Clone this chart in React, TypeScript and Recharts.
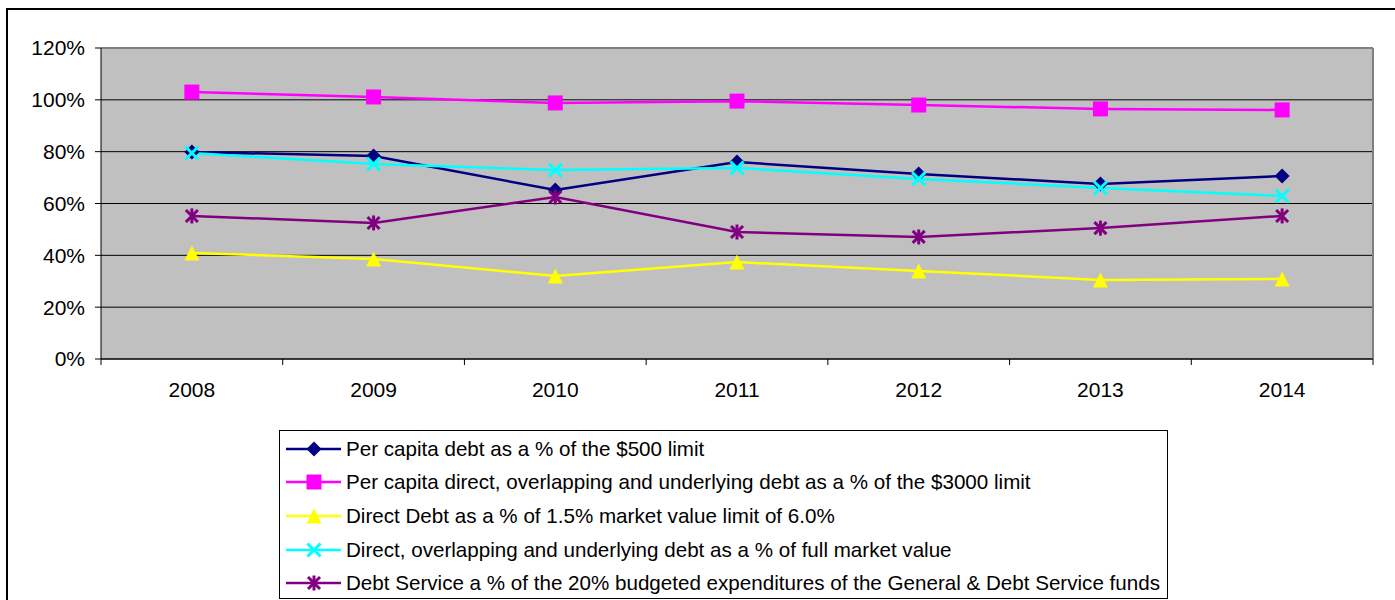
import React from "react";
import {
  LineChart,
  Line,
  XAxis,
  YAxis,
  CartesianGrid,
  ReferenceLine,
} from "recharts";

const years = ["2008", "2009", "2010", "2011", "2012", "2013", "2014"];

const perCapita500 = [79.9, 78.3, 65.2, 76.0, 71.4, 67.5, 70.6];
const perCapita3000 = [103.0, 101.1, 98.8, 99.5, 98.0, 96.5, 96.1];
const directDebt = [40.9, 38.6, 32.0, 37.4, 34.0, 30.5, 30.9];
const fullMarket = [79.5, 75.2, 72.9, 73.7, 69.5, 66.0, 62.9];
const debtService = [55.2, 52.5, 62.5, 49.0, 47.1, 50.5, 55.2];

const yTicks = [0, 20, 40, 60, 80, 100, 120];

type Shape = "diamond" | "square" | "triangle" | "x" | "star";

const series: { key: string; name: string; values: number[]; color: string; shape: Shape }[] = [
  { key: "a", name: "Per capita debt as a % of the $500 limit", values: perCapita500, color: "#000080", shape: "diamond" },
  { key: "b", name: "Per capita direct, overlapping and underlying debt as a % of the $3000 limit", values: perCapita3000, color: "#FF00FF", shape: "square" },
  { key: "c", name: "Direct Debt as a % of 1.5% market value limit of 6.0%", values: directDebt, color: "#FFFF00", shape: "triangle" },
  { key: "d", name: "Direct, overlapping and underlying debt as a % of full market value", values: fullMarket, color: "#00FFFF", shape: "x" },
  { key: "e", name: "Debt Service a % of the 20% budgeted expenditures of the General & Debt Service funds", values: debtService, color: "#800080", shape: "star" },
];

const data = years.map((y, i) => {
  const row: Record<string, number | string> = { x: i + 0.5, year: y };
  series.forEach((s) => (row[s.key] = s.values[i]));
  return row;
});

// ticks on band edges (integers) and labels at band centres (halves)
const xTicks = Array.from({ length: years.length * 2 + 1 }, (_, i) => i / 2);

const FONT = "Arial, 'Liberation Sans', sans-serif";

function Marker({ cx, cy, shape, color }: { cx: number; cy: number; shape: Shape; color: string }) {
  const r = 7.5;
  switch (shape) {
    case "diamond":
      return <polygon points={`${cx},${cy - r} ${cx + r},${cy} ${cx},${cy + r} ${cx - r},${cy}`} fill={color} />;
    case "square":
      return <rect x={cx - r} y={cy - r} width={r * 2} height={r * 2} fill={color} />;
    case "triangle":
      return <polygon points={`${cx},${cy - r} ${cx + r},${cy + r} ${cx - r},${cy + r}`} fill={color} />;
    case "x":
      return (
        <g stroke={color} strokeWidth={3}>
          <line x1={cx - 6.5} y1={cy - 6.5} x2={cx + 6.5} y2={cy + 6.5} />
          <line x1={cx - 6.5} y1={cy + 6.5} x2={cx + 6.5} y2={cy - 6.5} />
        </g>
      );
    default:
      return (
        <g stroke={color} strokeWidth={3}>
          <line x1={cx - 6} y1={cy - 6} x2={cx + 6} y2={cy + 6} />
          <line x1={cx - 6} y1={cy + 6} x2={cx + 6} y2={cy - 6} />
          <line x1={cx} y1={cy - 7.5} x2={cx} y2={cy + 7.5} />
        </g>
      );
  }
}

function XTick({ x, y, payload }: any) {
  const v = payload.value as number;
  if (Number.isInteger(v)) {
    return <line x1={x} y1={y} x2={x} y2={y + 6} stroke="#000" strokeWidth={1} />;
  }
  return (
    <text x={x} y={y + 38} textAnchor="middle" fontSize={21} fontFamily={FONT} fill="#000">
      {years[Math.floor(v)]}
    </text>
  );
}

function LegendBox() {
  return (
    <div
      style={{
        position: "absolute",
        left: 279,
        top: 430,
        width: 887,
        height: 166,
        border: "1px solid #000",
        background: "#fff",
        fontFamily: FONT,
        fontSize: 20.6,
        paddingTop: 1,
        boxSizing: "content-box",
      }}
    >
      {series.map((s) => (
        <div key={s.key} style={{ display: "flex", alignItems: "center", height: 33.6, whiteSpace: "nowrap" }}>
          <svg width={66} height={20} style={{ flex: "none" }}>
            <line x1={6} y1={10} x2={61} y2={10} stroke={s.color} strokeWidth={2.5} />
            <Marker cx={34} cy={10} shape={s.shape} color={s.color} />
          </svg>
          <span>{s.name}</span>
        </div>
      ))}
    </div>
  );
}

export default function App() {
  return (
    <div style={{ position: "absolute", left: 0, top: 0, width: 1395, height: 600, overflow: "hidden", background: "#fff" }}>
      <div
        style={{
          position: "absolute",
          left: 6,
          top: 8,
          width: 1500,
          height: 700,
          border: "2px solid #000",
        }}
      />
      <div style={{ position: "absolute", left: 0, top: 0 }}>
        <LineChart width={1395} height={600} data={data} margin={{ top: 48, right: 22, left: 21, bottom: 201 }}>
          <CartesianGrid vertical={false} fill="#C0C0C0" fillOpacity={1} stroke="#000" strokeOpacity={1} />
          <XAxis
            dataKey="x"
            type="number"
            domain={[0, 7]}
            ticks={xTicks}
            interval={0}
            allowDecimals
            height={40}
            tickSize={0}
            tickMargin={0}
            tickLine={false}
            axisLine={{ stroke: "#000", strokeWidth: 1 }}
            tick={<XTick />}
          />
          <YAxis
            type="number"
            domain={[0, 120]}
            ticks={yTicks}
            interval={0}
            width={80}
            tickSize={6}
            tickMargin={10}
            tickFormatter={(v) => `${v}%`}
            tick={{ fontSize: 21, fontFamily: FONT, fill: "#000" }}
            tickLine={{ stroke: "#000" }}
            axisLine={{ stroke: "#000", strokeWidth: 1 }}
          />
          <ReferenceLine y={120} stroke="#808080" strokeWidth={2} />
          <ReferenceLine x={7} stroke="#808080" strokeWidth={2} />
          {series.map((s) => (
            <Line
              key={s.key}
              dataKey={s.key}
              name={s.name}
              stroke={s.color}
              strokeWidth={2.5}
              isAnimationActive={false}
              activeDot={false}
              dot={(p: any) => <Marker key={`${s.key}-${p.index}`} cx={p.cx} cy={p.cy} shape={s.shape} color={s.color} />}
            />
          ))}
        </LineChart>
      </div>
      <LegendBox />
    </div>
  );
}
